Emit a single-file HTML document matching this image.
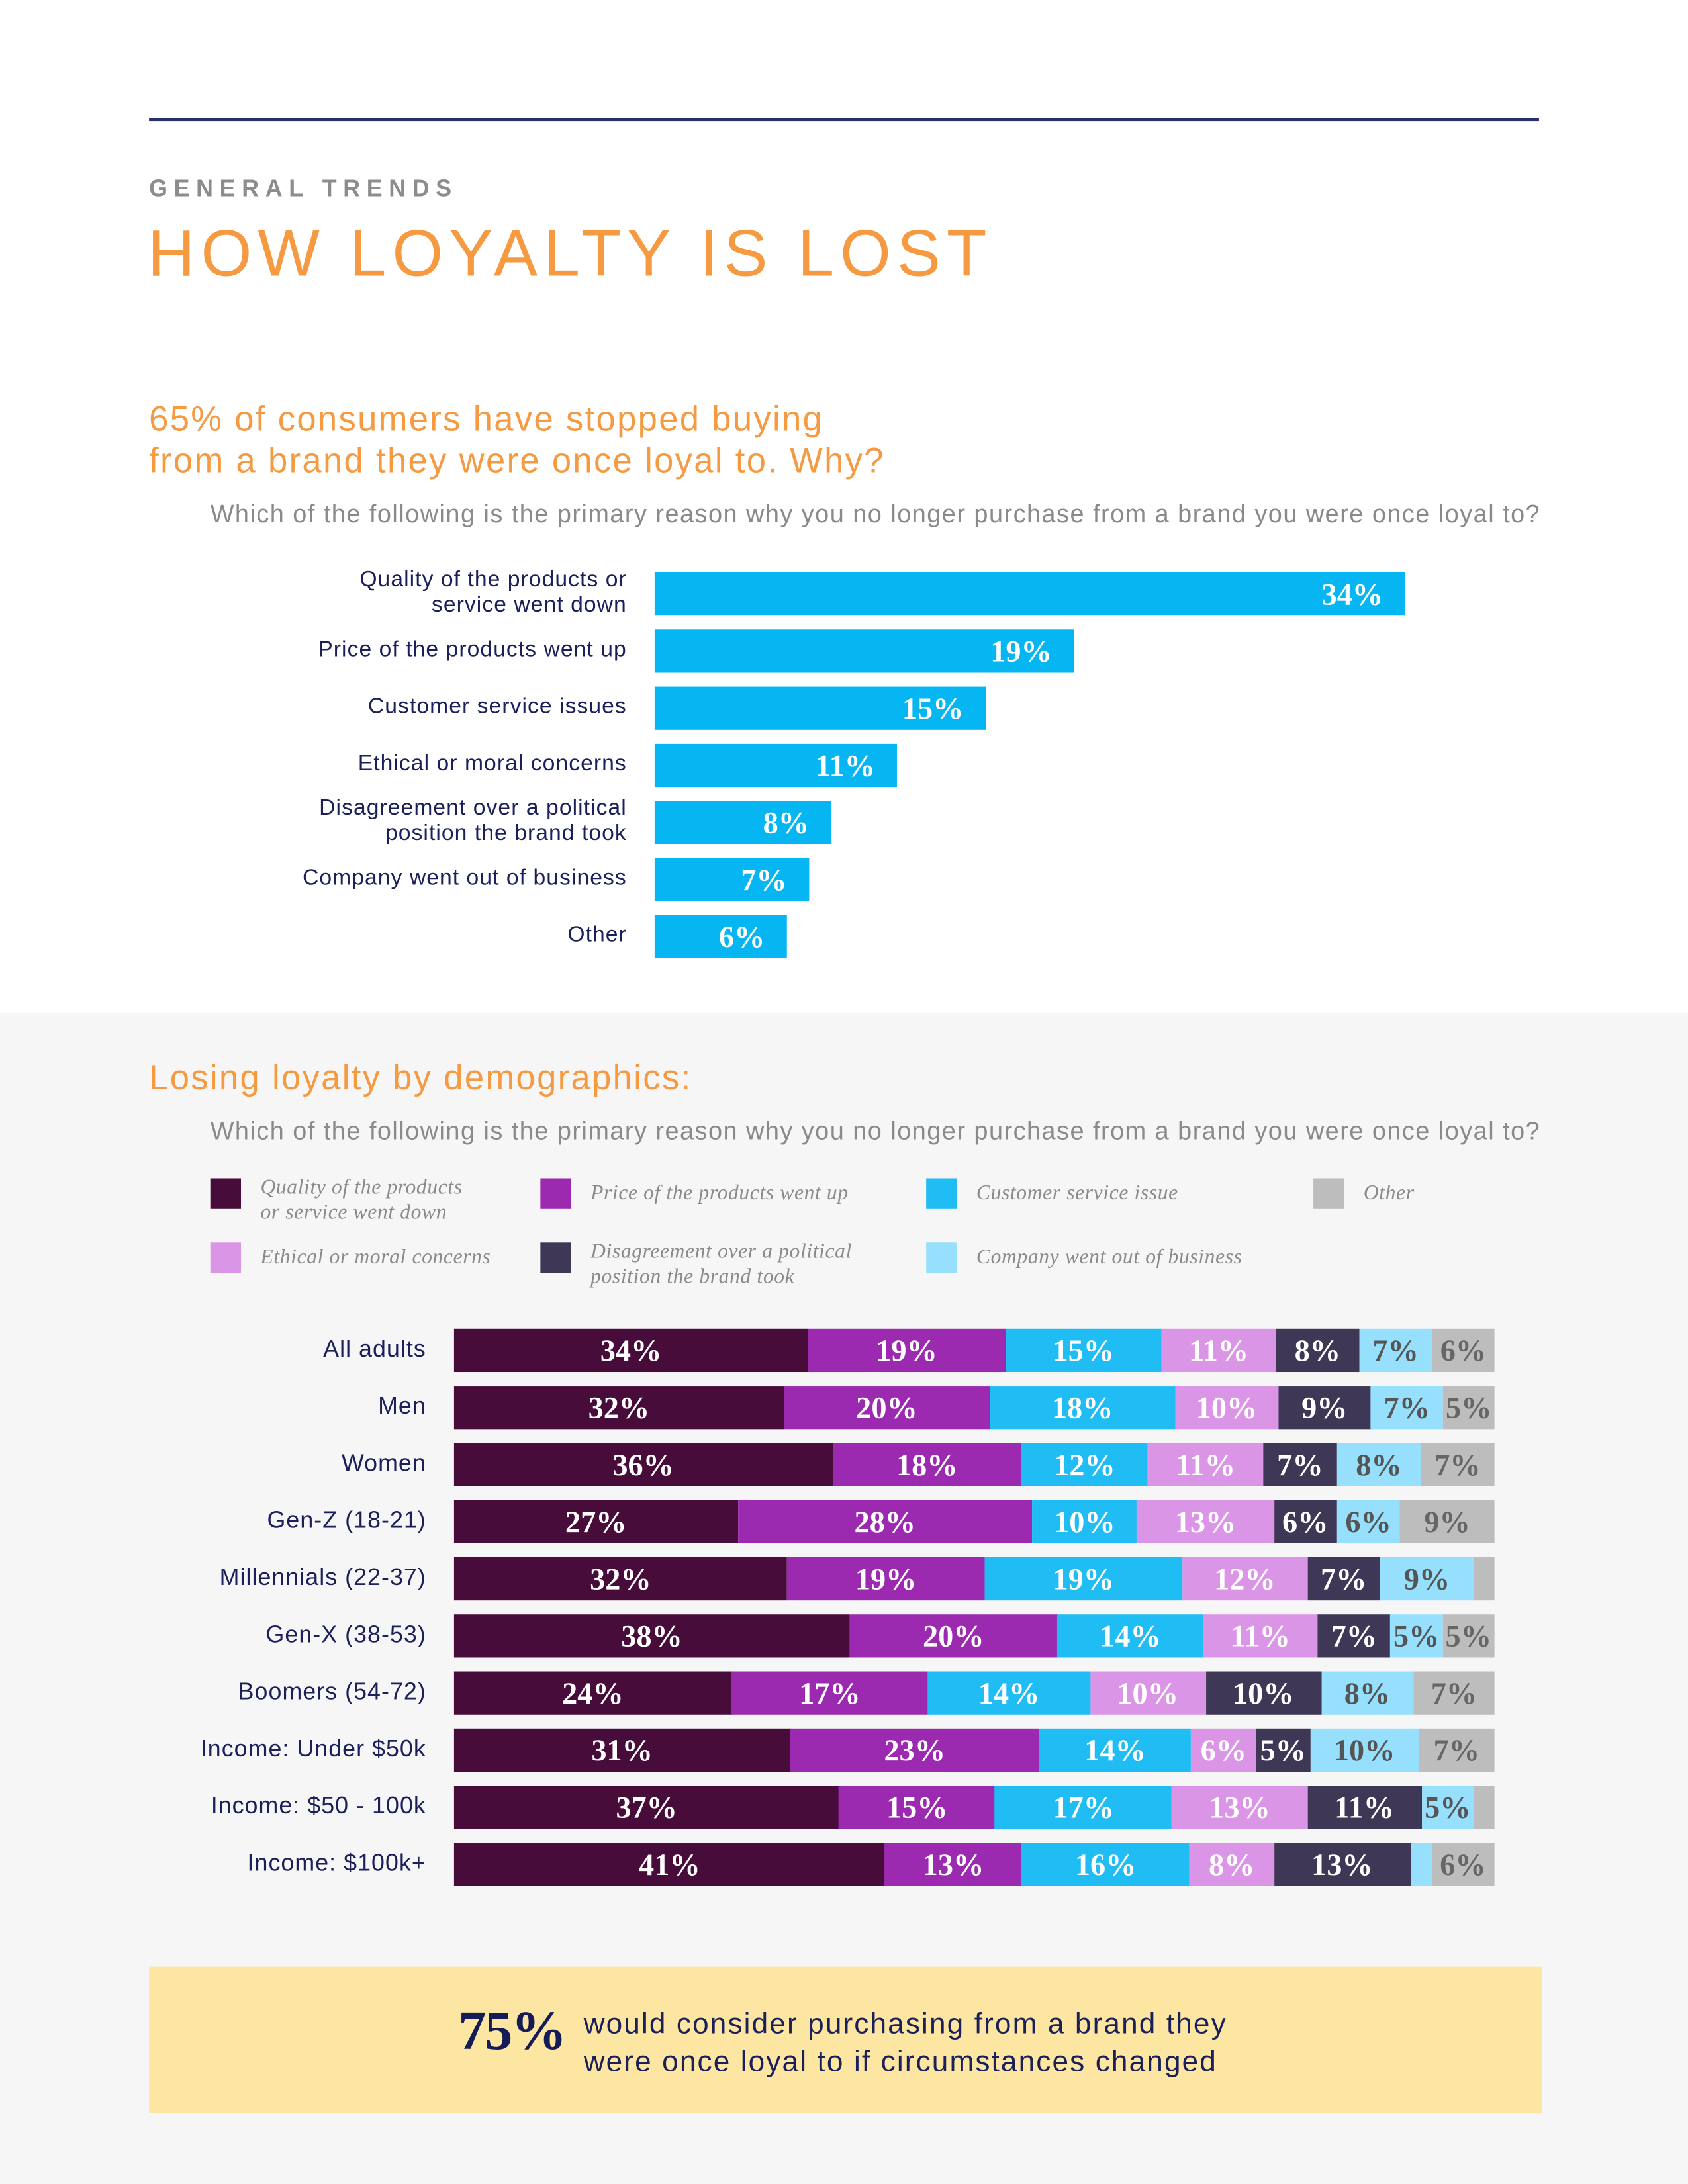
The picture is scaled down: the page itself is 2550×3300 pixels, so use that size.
<!DOCTYPE html>
<html><head><meta charset="utf-8">
<style>
html,body{margin:0;padding:0;width:2550px;height:3300px;overflow:hidden;background:#fff}
#wrap{position:absolute;left:0;top:0;width:1212px;height:1568px;transform:scale(2.1040,2.1046);transform-origin:0 0;font-family:"Liberation Sans",sans-serif}
.abs{position:absolute}
.lbl{position:absolute;right:762px;color:#1b1f5a;font-size:16px;text-align:right;line-height:18px;letter-spacing:0.5px;white-space:nowrap}
.val{position:absolute;font-family:"Liberation Serif",serif;font-weight:bold;font-size:22px;line-height:31px;text-align:center}
.leg{position:absolute;font-family:"Liberation Serif",serif;font-style:italic;color:#8a8a8a;font-size:15px;line-height:18px;letter-spacing:0.3px}
.sw{position:absolute;width:22px;height:22px}
</style></head>
<body>
<div id="wrap">
<div class="abs" style="left:0;top:727px;width:1212px;height:841px;background:#f6f6f6"></div>
<div class="abs" style="left:107px;top:85px;width:998px;height:1.5px;background:#2a2f6e"></div>
<div class="abs" style="left:107px;top:126px;font-size:17px;font-weight:bold;letter-spacing:4.6px;color:#8c8c8c">GENERAL TRENDS</div>
<div class="abs" style="left:106px;top:154px;font-size:47px;letter-spacing:4.3px;color:#f59a41">HOW LOYALTY IS LOST</div>
<div class="abs" style="left:107px;top:286px;font-size:25px;line-height:30px;letter-spacing:1.1px;color:#f59a41">65% of consumers have stopped buying<br>from a brand they were once loyal to. Why?</div>
<div class="abs" style="left:151px;top:359px;font-size:18px;letter-spacing:0.7px;color:#8a8a8a;white-space:nowrap">Which of the following is the primary reason why you no longer purchase from a brand you were once loyal to?</div>
<div id="c1"></div>

<div class="abs" style="left:107px;top:760px;font-size:25px;letter-spacing:1.1px;color:#f59a41">Losing loyalty by demographics:</div>
<div class="abs" style="left:151px;top:802px;font-size:18px;letter-spacing:0.7px;color:#8a8a8a;white-space:nowrap">Which of the following is the primary reason why you no longer purchase from a brand you were once loyal to?</div>
<div id="legend"></div>
<div id="c2"></div>

<div class="abs" style="left:107px;top:1412px;width:1000px;height:105px;background:#fde6a1"></div>
<div class="abs" style="left:329px;top:1434px;font-family:'Liberation Serif',serif;font-weight:bold;font-size:40px;letter-spacing:-1px;color:#151b57">75%</div>
<div class="abs" style="left:419px;top:1440px;font-size:21px;line-height:27px;letter-spacing:1px;color:#1b1f5a">would consider purchasing from a brand they<br>were once loyal to if circumstances changed</div>
</div>
<script>
const reasons=["Quality of the products or<br>service went down","Price of the products went up","Customer service issues","Ethical or moral concerns","Disagreement over a political<br>position the brand took","Company went out of business","Other"];
const reasonValues=[34,19,15,11,8,7,6];
const groups=["All adults","Men","Women","Gen-Z (18-21)","Millennials (22-37)","Gen-X (38-53)","Boomers (54-72)","Income: Under $50k","Income: $50 - 100k","Income: $100k+"];
const sQuality=[34,32,36,27,32,38,24,31,37,41];
const sPrice=[19,20,18,28,19,20,17,23,15,13];
const sService=[15,18,12,10,19,14,14,14,17,16];
const sEthical=[11,10,11,13,12,11,10,6,13,8];
const sPolitical=[8,9,7,6,7,7,10,5,11,13];
const sBusiness=[7,7,8,6,9,5,8,10,5,2];
const sOther=[6,5,7,9,2,5,7,7,2,6];
const hiddenLabels=[[4,6],[8,6],[9,5]];
const seriesNames=["Quality of the products<br>or service went down","Price of the products went up","Customer service issue","Other","Ethical or moral concerns","Disagreement over a political<br>position the brand took","Company went out of business"];
const colors=["#470c3a","#9c2ab0","#20bdf5","#db95e6","#3e3755","#96e0fe","#bdbdbd"];
const textCols=["#fff","#fff","#fff","#fff","#fff","#555","#666"];
const W=document.getElementById('wrap');
function mk(cls,st,html){const d=document.createElement('div');d.className=cls;d.setAttribute('style',st);if(html!==undefined)d.innerHTML=html;W.appendChild(d);return d;}
const x1=v=>v*15.85, y1=i=>411+i*41;
reasonValues.forEach((v,i)=>{
 const b=mk('abs',`left:470px;top:${y1(i)}px;width:${x1(v)}px;height:31px;background:#06b6f2`);
 
 
 const t=mk('val',`left:470px;top:${y1(i)}px;width:${x1(v)-16}px;text-align:right;color:#fff`,v+'%');
 
 
 const two=reasons[i].includes('<br>');
 const l=mk('lbl',`top:${y1(i)+(two?-3:6)}px`,reasons[i]);
 
 
});
const legPos=[[151,844],[388,844],[665,844],[943,844],[151,890],[388,890],[665,890]];
seriesNames.forEach((n,i)=>{
 const ci=[0,1,2,6,3,4,5][i];
 const [lx,ly]=legPos[i];
 const s=mk('sw',`left:${lx}px;top:${ly+2}px;background:${colors[ci]}`);
 
 
 const two=n.includes('<br>');
 const t=mk('leg',`left:${lx+36}px;top:${ly+(two?0:4)}px`,n);
 
 
});
const series=[sQuality,sPrice,sService,sEthical,sPolitical,sBusiness,sOther];
const X0=326,WID=747,y2=i=>954+i*41;
groups.forEach((g,i)=>{
 const tot=series.reduce((a,s)=>a+s[i],0);
 let acc=0;
 series.forEach((s,k)=>{
  const v=s[i],x=X0+acc/tot*WID,w=v/tot*WID;acc+=v;
  const b=mk('abs',`left:${x}px;top:${y2(i)}px;width:${w+0.3}px;height:31px;background:${colors[k]}`);
  
  
  if(!hiddenLabels.some(h=>h[0]===i&&h[1]===k)){
   const t=mk('val',`left:${x-10}px;top:${y2(i)}px;width:${w+20}px;color:${textCols[k]}`,v+'%');
   
   
  }
 });
 const l=mk('lbl',`right:906px;top:${y2(i)+6}px;font-size:17px`,g);
 
 
});
</script>
</body></html>
